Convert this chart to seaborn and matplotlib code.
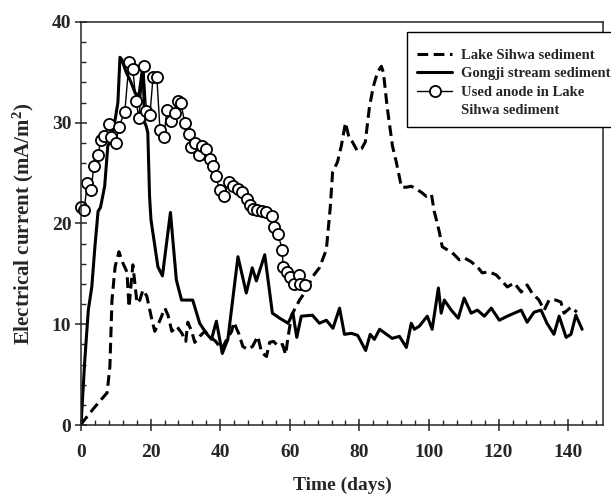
import matplotlib
matplotlib.use("Agg")
import matplotlib.pyplot as plt
from matplotlib.lines import Line2D
from matplotlib.ticker import MultipleLocator
import pandas as pd
import seaborn as sns

# Lake Sihwa sediment (dashed)
sihwa_x = [0.0, 0.5, 4.0, 7.5, 8.3, 8.9, 9.8, 10.9, 12.0, 13.2, 13.8, 14.9, 16.1, 16.9,
           17.8, 18.9, 20.4, 21.2, 22.7, 24.1, 25.0, 26.1, 27.5, 29.0, 30.1, 30.7,
           31.8, 32.7, 34.1, 35.6, 37.0, 38.7, 40.4, 41.9, 43.3, 43.9, 45.3, 46.5,
           47.9, 49.3, 50.8, 51.9, 53.3, 54.2, 55.3, 56.8, 57.9, 58.8, 59.4, 60.5,
           62.8, 64.8, 66.5, 68.5, 70.5, 71.6, 72.3, 73.7, 74.8, 76.0, 77.1, 78.0,
           79.4, 80.6, 81.7, 82.9, 84.0, 85.2, 86.3, 86.9, 88.0, 89.5, 90.6, 92.1,
           93.5, 94.9, 96.4, 97.8, 99.2, 100.7, 101.5, 102.1, 103.0, 103.8, 105.2,
           106.7, 108.7, 110.1, 112.1, 113.9, 115.3, 117.3, 119.3, 120.7, 122.5,
           124.5, 126.5, 128.2, 129.6, 131.6, 133.1, 134.5, 136.5, 137.9, 138.8,
           140.8, 142.5]
sihwa_y = [0.0, 0.3, 1.8, 3.2, 5.8, 12.4, 15.7, 17.2, 16.1, 15.2, 11.7, 15.9, 12.1, 12.4,
           13.4, 12.8, 10.4, 9.3, 10.4, 11.6, 10.9, 9.3, 9.8, 9.1, 8.3, 10.2,
           9.3, 8.2, 8.8, 9.3, 8.8, 8.3, 7.5, 8.5, 9.3, 10.2, 9.1, 7.8,
           7.5, 7.8, 8.8, 7.2, 6.8, 8.2, 8.3, 7.8, 8.0, 7.0, 8.5, 10.9,
           12.4, 13.4, 14.7, 15.6, 17.4, 21.5, 25.1, 26.1, 27.7, 30.0, 28.4, 28.1,
           27.2, 27.4, 28.1, 31.6, 33.6, 35.0, 35.6, 35.0, 31.5, 27.7, 26.1, 23.6,
           23.6, 23.7, 23.4, 23.1, 22.7, 22.9, 21.2, 20.4, 19.1, 17.7, 17.4,
           17.1, 16.4, 16.6, 16.2, 15.7, 15.1, 15.2, 14.9, 14.4, 13.7,
           14.1, 13.2, 13.9, 13.1, 12.4, 11.4, 12.4, 12.4, 12.2, 11.1,
           11.7, 11.2]

# Gongji stream sediment (solid)
gongji_x = [0.0, 1.1, 2.1, 3.1, 4.0, 4.9, 5.6, 6.8, 7.7, 8.7, 9.8, 10.6, 11.2, 11.7,
            13.0, 14.4, 15.5, 16.6, 17.8, 18.3, 18.7, 19.2, 19.7, 20.1, 22.1, 23.4,
            25.7, 27.4, 28.9, 32.1, 34.1, 36.0, 37.5, 38.9, 40.6, 42.2, 45.1, 47.5,
            49.2, 50.4, 52.8, 55.0, 57.1, 59.5, 60.9, 62.0, 63.3, 66.5, 68.5, 70.5,
            72.4, 74.3, 75.7, 77.7, 79.5, 81.8, 83.1, 84.3, 85.8, 87.8, 89.4, 91.5,
            93.5, 94.9, 95.8, 97.2, 99.5, 100.9, 102.7, 103.5, 104.4, 106.4, 108.4,
            110.1, 112.1, 113.9, 115.9, 117.9, 120.2, 122.5, 124.5, 126.5, 128.2,
            130.2, 132.2, 133.9, 135.9, 137.4, 139.4, 140.8, 142.2, 144.0]
gongji_y = [0.0, 6.5, 11.4, 13.7, 17.7, 21.2, 21.6, 23.7, 27.7, 28.4, 30.3, 32.0, 36.5, 36.3,
            35.0, 34.0, 33.0, 32.6, 35.7, 30.0, 29.7, 29.0, 22.7, 20.4, 15.7, 14.8,
            21.1, 14.4, 12.4, 12.4, 10.1, 9.1, 8.5, 10.3, 7.1, 8.5, 16.7, 13.1,
            15.6, 14.3, 16.9, 11.1, 10.6, 10.1, 11.1, 8.7, 10.8, 10.9, 10.1, 10.4,
            9.6, 11.6, 9.0, 9.1, 8.9, 7.4, 9.0, 8.5, 9.5, 9.0, 8.6, 8.8,
            7.7, 10.1, 9.5, 9.8, 10.8, 9.5, 13.6, 11.1, 12.4, 11.4, 10.6,
            12.6, 11.1, 11.4, 10.8, 11.6, 10.4, 10.8, 11.1, 11.4, 10.2,
            11.2, 11.4, 10.1, 9.0, 10.8, 8.7, 9.0, 10.9, 9.5]

# Used anode in Lake Sihwa sediment (circles)
anode_x = [0.0, 0.9, 1.8, 2.9, 3.7, 4.9, 5.7, 6.6, 8.0, 8.6, 10.0, 10.9, 12.6, 13.8,
           14.9, 15.8, 16.6, 18.0, 18.8, 19.8, 20.7, 21.8, 22.7, 23.8, 24.7, 25.8,
           27.0, 27.8, 28.7, 29.8, 31.0, 31.5, 32.7, 33.8, 34.7, 35.8, 37.0, 37.9,
           38.7, 39.9, 41.0, 42.4, 43.6, 45.0, 46.2, 47.6, 48.5, 49.3, 50.5, 51.9,
           53.3, 54.8, 55.6, 56.5, 57.9, 58.0, 59.1, 60.2, 61.1, 62.5, 62.8, 64.5]
anode_y = [21.6, 21.3, 24.0, 23.3, 25.7, 26.8, 28.3, 28.7, 29.9, 28.6, 28.0, 29.6, 31.1, 36.0,
           35.3, 32.2, 30.5, 35.6, 31.2, 30.8, 34.5, 34.5, 29.3, 28.6, 31.3, 30.2,
           31.0, 32.2, 32.0, 30.0, 28.9, 27.6, 28.0, 26.8, 27.7, 27.4, 26.4, 25.7,
           24.7, 23.3, 22.7, 24.1, 23.7, 23.4, 23.1, 22.4, 21.8, 21.4, 21.3, 21.2,
           21.1, 20.7, 19.7, 19.0, 17.4, 15.7, 15.2, 14.7, 14.0, 14.9, 14.0, 13.9]

legend_labels = ["Lake Sihwa sediment", "Gongji stream sediment",
                 "Used anode in Lake", "Sihwa sediment"]

sihwa = pd.DataFrame({"day": sihwa_x, "current": sihwa_y})
gongji = pd.DataFrame({"day": gongji_x, "current": gongji_y})
anode = pd.DataFrame({"day": anode_x, "current": anode_y})

sns.set_style("ticks")
plt.rcParams["font.family"] = ["Liberation Serif", "DejaVu Serif"]
plt.rcParams["font.weight"] = "bold"
plt.rcParams["mathtext.fontset"] = "custom"
plt.rcParams["mathtext.rm"] = "Liberation Serif:bold"
plt.rcParams["mathtext.default"] = "rm"

fig = plt.figure(figsize=(6.11, 5.01), dpi=100)
ax = fig.add_axes([81 / 611, 76 / 501, 522 / 611, 403 / 501])

sns.lineplot(data=sihwa, x="day", y="current", ax=ax, color="black", lw=2.2,
             linestyle=(0, (3.5, 1.8)), estimator=None, sort=False, legend=False)
sns.lineplot(data=gongji, x="day", y="current", ax=ax, color="black", lw=2.2,
             estimator=None, sort=False, legend=False)
sns.lineplot(data=anode, x="day", y="current", ax=ax, color="black", lw=1.0,
             marker="o", markersize=8, markerfacecolor="white",
             markeredgecolor="black", markeredgewidth=1.3,
             estimator=None, sort=False, legend=False, clip_on=False)

ax.set_xlim(0, 150)
ax.set_ylim(0, 40)
ax.xaxis.set_minor_locator(MultipleLocator(4))
ax.yaxis.set_major_locator(MultipleLocator(10))
ax.yaxis.set_minor_locator(MultipleLocator(2))
ax.set_xticks(range(0, 141, 20))
ax.tick_params(which="major", direction="inout", length=8, width=1.1,
               labelsize=14, pad=3)
ax.tick_params(which="minor", direction="in", length=3.5, width=1.0)
ax.tick_params(axis="x", which="major", pad=10)
for s in ax.spines.values():
    s.set_linewidth(1.1)

ax.set_xlabel("Time (days)", fontsize=14, fontweight="bold", labelpad=11)
ax.set_ylabel("Electrical current (mA/m$^2$)", fontsize=15, fontweight="bold",
              labelpad=11)

# legend: the third label wraps onto a second row with no handle
lines = ax.get_lines()
handles = [lines[0], lines[1], lines[2], Line2D([], [], linestyle="none")]
leg = ax.legend(handles, legend_labels, loc="upper left",
                bbox_to_anchor=(0.6245, 0.975), borderaxespad=0,
                fancybox=False, framealpha=1, edgecolor="black",
                fontsize=10.5, handlelength=2.4, handletextpad=0.6,
                labelspacing=0.36, borderpad=0.7,
                title=" ", title_fontsize=1)
leg.get_frame().set_linewidth(1.0)
for t in leg.get_texts():
    t.set_fontweight("bold")

fig.savefig("out.png", dpi=100)
